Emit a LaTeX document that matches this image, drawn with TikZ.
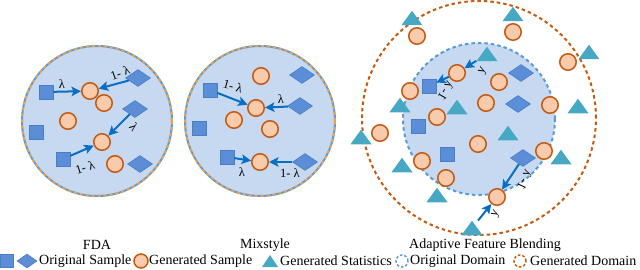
\documentclass[tikz,border=0pt]{standalone}
\usepackage{fontspec}
\setmainfont{Liberation Serif}
\usepackage{graphicx}
\usetikzlibrary{shapes.geometric,arrows.meta}
\definecolor{dom}{HTML}{C6D9F0}
\definecolor{sqb}{HTML}{5B8ED6}
\definecolor{sqd}{HTML}{4A7EC4}
\definecolor{peach}{HTML}{F8CBAD}
\definecolor{rust}{HTML}{C55A11}
\definecolor{tealc}{HTML}{46A8C2}
\definecolor{arrb}{HTML}{0A6FC2}
\definecolor{domb}{HTML}{5B9BD5}
\definecolor{domo}{HTML}{F0A050}
\tikzset{
  sq/.style={rectangle, fill=sqb, draw=sqd, line width=0.6pt, minimum size=14pt, inner sep=0pt},
  dm/.style={diamond, fill=sqb, draw=sqd, line width=0.6pt, minimum width=25pt, minimum height=17pt, inner sep=0pt},
  gc/.style={circle, fill=peach, draw=rust, line width=1.5pt, minimum size=16.5pt, inner sep=0pt},
  tri/.style={rectangle, minimum width=21pt, minimum height=14.5pt, inner sep=0pt,
    path picture={\fill[tealc] (path picture bounding box.south west) -- (path picture bounding box.south east) -- (path picture bounding box.north) -- cycle;}},
  arr/.style={draw=arrb, line width=2pt, -{Stealth[length=9.5pt,width=9.5pt,inset=2pt]}},
  lab/.style={font=\fontsize{12.5}{12.5}\selectfont, inner sep=0pt},
  ttl/.style={font=\fontsize{14}{16}\selectfont, inner sep=0pt},
  domain2/.style={circle, fill=dom, draw=domb, line width=2pt, inner sep=0pt, minimum size=150pt,
    postaction={draw=domo, line width=2pt, dash pattern=on 3pt off 3pt}},
}
\newcommand{\flipl}[1]{\scalebox{1}[-1]{#1}}
\begin{document}
\begin{tikzpicture}[x=1pt,y=-1pt]
\path[use as bounding box] (0,0) rectangle (640,270);

% ---------- FDA ----------
\node[domain2] (D1) at (97,121) {};
\node[sq] (a1) at (46,92) {};
\node[sq] (a2) at (36,132) {};
\node[sq] (a3) at (63,159) {};
\node[dm] (a4) at (138,78) {};
\node[dm] (a5) at (135,109) {};
\node[dm] (a6) at (140,164) {};
\node[gc] (a7) at (90,91) {};
\node[gc] (a8) at (104,103) {};
\node[gc] (a9) at (68,121) {};
\node[gc] (a10) at (102,142) {};
\node[gc] (a11) at (115,164) {};
\draw[arr] (a1) -- (a7);
\draw[arr] (a4) -- (a7);
\draw[arr] (a5) -- (a10);
\draw[arr] (a3) -- (a10);
\node[lab] (la1) at (62,84) {λ};
\node[lab,rotate=20] (la2) at (120,73) {1- λ};
\node[lab,rotate=-50] (la3) at (134,127) {λ};
\node[lab,rotate=18] (la4) at (85,167) {1- λ};

% ---------- Mixstyle ----------
\node[domain2] (D2) at (260,121) {};
\node[sq] (b1) at (210,90) {};
\node[sq] (b2) at (199,128) {};
\node[sq] (b3) at (227,157) {};
\node[dm] (b4) at (302,75) {};
\node[dm] (b5) at (300,106) {};
\node[dm] (b6) at (305,162) {};
\node[gc] (b7) at (261,76) {};
\node[gc] (b8) at (256,108) {};
\node[gc] (b9) at (234,120) {};
\node[gc] (b10) at (270,129) {};
\node[gc] (b11) at (260,162) {};
\draw[arr] (b1) -- (b8);
\draw[arr] (b5) -- (b8);
\draw[arr] (b3) -- (b11);
\draw[arr] (b6) -- (b11);
\node[lab,rotate=-15] (lb1) at (233,86) {1- λ};
\node[lab] (lb2) at (281,99) {λ};
\node[lab] (lb3) at (242,172) {λ};
\node[lab] (lb4) at (290,173) {1- λ};

% ---------- Adaptive Feature Blending ----------
\node[circle, draw=rust, line width=2pt, dash pattern=on 3.5pt off 3pt, minimum size=234pt, inner sep=0pt] (D3o) at (479,118) {};
\node[circle, fill=dom, draw=domb, line width=2pt, dash pattern=on 3.5pt off 3pt, minimum size=152pt, inner sep=0pt] (D3i) at (479,119) {};
\node[tri] (t1) at (412,18) {};
\node[tri] (t2) at (513,14) {};
\node[tri] (t3) at (589,52) {};
\node[tri] (t4) at (487,54) {};
\node[tri] (t5) at (400,105) {};
\node[tri] (t6) at (457,107) {};
\node[tri] (t7) at (578,106) {};
\node[tri] (t8) at (361,137) {};
\node[tri] (t9) at (508,133) {};
\node[tri] (t10) at (402,165) {};
\node[tri] (t11) at (561,157) {};
\node[tri] (t12) at (437,195) {};
\node[tri] (t13) at (472,228) {};
\node[sq] (s1) at (429,86) {};
\node[sq] (s2) at (418,126) {};
\node[sq] (s3) at (447,154) {};
\node[dm] (d1) at (521,73) {};
\node[dm] (d2) at (518,104) {};
\node[dm] (d3) at (523,158) {};
\node[gc] (c1) at (417,36) {};
\node[gc] (c2) at (513,32) {};
\node[gc] (c3) at (568,62) {};
\node[gc] (c4) at (457,73) {};
\node[gc] (c5) at (499,82) {};
\node[gc] (c6) at (410,91) {};
\node[gc] (c7) at (486,103) {};
\node[gc] (c8) at (550,105) {};
\node[gc] (c9) at (437,117) {};
\node[gc] (c10) at (380,133) {};
\node[gc] (c11) at (478,144) {};
\node[gc] (c12) at (544,151) {};
\node[gc] (c13) at (422,161) {};
\node[gc] (c14) at (446,178) {};
\node[gc] (c15) at (497,197) {};
\draw[arr] (t4) -- (c4);
\draw[arr] (c4) -- (s1);
\draw[arr] (d3) -- (c15);
\draw[arr] (t13) -- (c15);
\node[lab,rotate=60] (lc1) at (483,71) {\flipl{λ}};
\node[lab,rotate=60] (lc2) at (446,91) {\flipl{1- λ}};
\node[lab,rotate=65] (lc3) at (525,180) {\flipl{1- λ}};
\node[lab,rotate=60] (lc4) at (496,214) {\flipl{λ}};

% ---------- titles ----------
\node[ttl] (T1) at (97,245) {FDA};
\node[ttl] (T2) at (265,245) {Mixstyle};
\node[ttl] (T3) at (485,245) {Adaptive Feature Blending};

% ---------- legend ----------
\node[sq, minimum size=13pt] (g1) at (6.5,261) {};
\node[dm, minimum width=20pt, minimum height=14pt] (g2) at (27,261) {};
\node[ttl, anchor=west] (g3) at (39,261) {Original Sample};
\node[gc, minimum size=14pt] (g4) at (141,261) {};
\node[ttl, anchor=west] (g5) at (149,261) {Generated Sample};
\node[tri, minimum width=16pt, minimum height=12pt] (g6) at (270,261) {};
\node[ttl, anchor=west] (g7) at (280,261) {Generated Statistics};
\node[circle, draw=domb, line width=1.5pt, dash pattern=on 2.5pt off 2pt, minimum size=12pt, inner sep=0pt] (g8) at (402,261) {};
\node[ttl, anchor=west] (g9) at (410,261) {Original Domain};
\node[circle, draw=rust, line width=1.5pt, dash pattern=on 2.5pt off 2pt, minimum size=12pt, inner sep=0pt] (g10) at (520,261) {};
\node[ttl, anchor=west] (g11) at (530,261) {Generated Domain};
\end{tikzpicture}
\end{document}
